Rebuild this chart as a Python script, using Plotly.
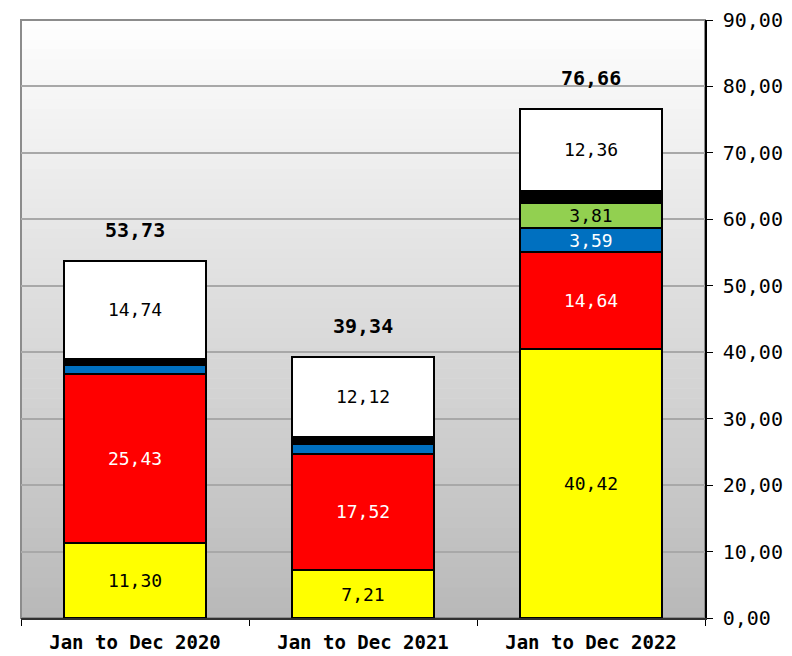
import plotly.graph_objects as go

categories = ['Jan to Dec 2020', 'Jan to Dec 2021', 'Jan to Dec 2022']

yellow = [11.30, 7.21, 40.42]
red = [25.43, 17.52, 14.64]
blue = [1.30, 1.50, 3.59]
green = [None, None, 3.81]
black = [0.96, 0.99, 1.84]
white = [14.74, 12.12, 12.36]

totals = [53.73, 39.34, 76.66]

# which segment values get a label
show_blue = [False, False, True]
show_green = [False, False, True]

series = [
    ('yellow', yellow, '#ffff00', 'black', [True] * 3),
    ('red', red, '#ff0000', 'white', [True] * 3),
    ('blue', blue, '#0070c0', 'white', show_blue),
    ('green', green, '#92d050', 'black', show_green),
    ('black', black, '#000000', 'white', [False] * 3),
    ('white', white, '#ffffff', 'black', [True] * 3),
]

mono = 'DejaVu Sans Mono'

fig = go.Figure()
for name, vals, col, tcol, show in series:
    txt = [('%.2f' % v).replace('.', ',') if (v is not None and s) else '' for v, s in zip(vals, show)]
    fig.add_trace(go.Bar(
        x=categories, y=vals, name=name,
        marker=dict(color=col, line=dict(color='black', width=2)),
        text=txt, textposition='inside', insidetextanchor='middle', textangle=0,
        insidetextfont=dict(family=mono, size=18, color=tcol),
        constraintext='none', hoverinfo='skip',
    ))

for c, t in zip(categories, totals):
    fig.add_annotation(x=c, y=t, text='<b>' + ('%.2f' % t).replace('.', ',') + '</b>',
                       showarrow=False, yanchor='middle', yshift=31,
                       font=dict(family=mono, size=20, color='black'))

# gradient background of the plot area
n = 60
for i in range(n):
    f = i / (n - 1)
    g = int(round(254 - (254 - 185) * f))
    fig.add_shape(type='rect', xref='paper', yref='paper', layer='below',
                  x0=0, x1=1, y0=1 - (i + 1) / n, y1=1 - i / n + 0.001,
                  line=dict(width=0), fillcolor='rgb(%d,%d,%d)' % (g, g, g))
fig.add_shape(type='rect', xref='paper', yref='paper', layer='below',
              x0=0, x1=1, y0=0, y1=1, line=dict(color='#8c8c8c', width=2))

fig.update_layout(
    barmode='stack', bargap=0.373, showlegend=False,
    width=784, height=648,
    margin=dict(l=13, r=87, t=12, b=38),
    paper_bgcolor='white', plot_bgcolor='rgba(0,0,0,0)',
    separators=',.',
    font=dict(family=mono, color='black'),
)
fig.update_xaxes(
    automargin=False,
    showline=True, linecolor='#303030', linewidth=2,
    ticks='outside', tickson='boundaries', ticklen=6, tickcolor='black',
    tickfont=dict(family=mono, size=19, color='black', weight='bold'),
    ticklabelstandoff=6,
    showgrid=False,
)
fig.update_yaxes(
    automargin=False,
    side='right', range=[0, 90], dtick=10, tickformat='.2f',
    showline=True, linecolor='black', linewidth=1.5,
    ticks='outside', ticklen=6, tickcolor='black',
    tickfont=dict(family=mono, size=20, color='black'),
    ticklabelstandoff=6,
    showgrid=True, gridcolor='#a8a8a8', gridwidth=1.5, zeroline=False,
)

fig.write_html('out.html')
